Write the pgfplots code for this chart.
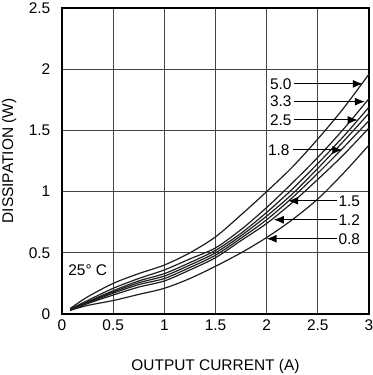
\documentclass[border=0pt]{standalone}
\usepackage{fontspec}
\setmainfont{Liberation Sans}
\usepackage{pgfplots}
\pgfplotsset{compat=1.18}
\usetikzlibrary{arrows.meta}
\definecolor{cur}{HTML}{1E1E1E}
\definecolor{grd}{HTML}{444444}
\begin{document}
\fontsize{15.5}{18}\selectfont
\begin{tikzpicture}
\useasboundingbox (-62bp,-61bp) rectangle (311bp,314bp);
\begin{axis}[
  at={(0,0)}, anchor=south west,
  scale only axis, width=307bp, height=306bp,
  xmin=0, xmax=3, ymin=0, ymax=2.5,
  xtick={0,0.5,1,1.5,2,2.5,3}, ytick={0,0.5,1,1.5,2,2.5},
  xticklabels={0,0.5,1,1.5,2,2.5,3},
  yticklabels={0,0.5,1,1.5,2,2.5},
  grid=major, major grid style={grd, line width=0.9bp},
  axis line style={black, line width=1.3bp},
  tick style={draw=none},
  ticklabel style={font=\fontsize{15.5}{18}\selectfont, inner sep=0.5bp},
  xticklabel style={yshift=-5.5bp},
  yticklabel style={xshift=-11bp},
  /pgf/number format/assume math mode=true,
  xlabel={OUTPUT CURRENT (A)}, ylabel={DISSIPATION (W)},
  label style={font=\fontsize{15.5}{18}\selectfont, inner sep=0pt},
  every axis x label/.style={at={(axis description cs:0.5,-0.172)}, anchor=center},
  every axis y label/.style={at={(axis description cs:-0.172,0.5)}, anchor=center, rotate=90},
  clip=false,
]
% 5.0
\addplot[cur, line width=1.2bp, smooth] coordinates {(0.08,0.045) (0.25,0.14) (0.5,0.25) (0.75,0.33) (1,0.40) (1.25,0.50) (1.5,0.63) (1.75,0.81) (2,1.00) (2.25,1.20) (2.5,1.43) (2.75,1.68) (3,1.96)};
% 3.3
\addplot[cur, line width=1.2bp, smooth] coordinates {(0.08,0.04) (0.25,0.11) (0.5,0.21) (0.75,0.29) (1,0.36) (1.25,0.45) (1.5,0.54) (1.75,0.69) (2,0.87) (2.25,1.07) (2.5,1.28) (2.75,1.51) (3,1.76)};
% 2.5
\addplot[cur, line width=1.2bp, smooth] coordinates {(0.08,0.04) (0.25,0.10) (0.5,0.19) (0.75,0.27) (1,0.33) (1.25,0.42) (1.5,0.52) (1.75,0.66) (2,0.83) (2.25,1.02) (2.5,1.23) (2.75,1.45) (3,1.69)};
% 1.8
\addplot[cur, line width=1.2bp, smooth] coordinates {(0.08,0.035) (0.25,0.095) (0.5,0.18) (0.75,0.255) (1,0.31) (1.25,0.40) (1.5,0.50) (1.75,0.64) (2,0.80) (2.25,0.98) (2.5,1.19) (2.75,1.41) (3,1.64)};
% 1.5
\addplot[cur, line width=1.2bp, smooth] coordinates {(0.08,0.035) (0.25,0.09) (0.5,0.17) (0.75,0.24) (1,0.29) (1.25,0.38) (1.5,0.48) (1.75,0.62) (2,0.77) (2.25,0.95) (2.5,1.15) (2.75,1.36) (3,1.58)};
% 1.2
\addplot[cur, line width=1.2bp, smooth] coordinates {(0.08,0.03) (0.25,0.085) (0.5,0.155) (0.75,0.22) (1,0.27) (1.25,0.36) (1.5,0.46) (1.75,0.60) (2,0.74) (2.25,0.91) (2.5,1.10) (2.75,1.30) (3,1.52)};
% 0.8
\addplot[cur, line width=1.2bp, smooth] coordinates {(0.08,0.03) (0.25,0.07) (0.5,0.11) (0.75,0.16) (1,0.21) (1.25,0.29) (1.5,0.39) (1.75,0.50) (2,0.625) (2.25,0.77) (2.5,0.94) (2.75,1.15) (3,1.38)};
% labels with arrows
\tikzset{lab/.style={inner sep=0pt, font=\fontsize{15.5}{18}\selectfont}, arr/.style={black, line width=1bp, -{Latex[length=10bp,width=8bp]}}}
\node[lab, anchor=east] at (axis cs:2.245,1.88) {5.0};
\draw[arr] (axis cs:2.27,1.88) -- (axis cs:2.94,1.88);
\node[lab, anchor=east] at (axis cs:2.245,1.735) {3.3};
\draw[arr] (axis cs:2.27,1.735) -- (axis cs:2.96,1.735);
\node[lab, anchor=east] at (axis cs:2.245,1.585) {2.5};
\draw[arr] (axis cs:2.27,1.585) -- (axis cs:2.89,1.585);
\node[lab, anchor=east] at (axis cs:2.225,1.34) {1.8};
\draw[arr] (axis cs:2.26,1.34) -- (axis cs:2.74,1.34);
\node[lab, anchor=west] at (axis cs:2.70,0.925) {1.5};
\draw[arr] (axis cs:2.69,0.925) -- (axis cs:2.21,0.925);
\node[lab, anchor=west] at (axis cs:2.70,0.77) {1.2};
\draw[arr] (axis cs:2.69,0.77) -- (axis cs:2.07,0.77);
\node[lab, anchor=west] at (axis cs:2.70,0.615) {0.8};
\draw[arr] (axis cs:2.69,0.615) -- (axis cs:2.00,0.615);
\node[lab, anchor=west] at (axis cs:0.06,0.36) {25° C};
\end{axis}
\end{tikzpicture}
\end{document}
